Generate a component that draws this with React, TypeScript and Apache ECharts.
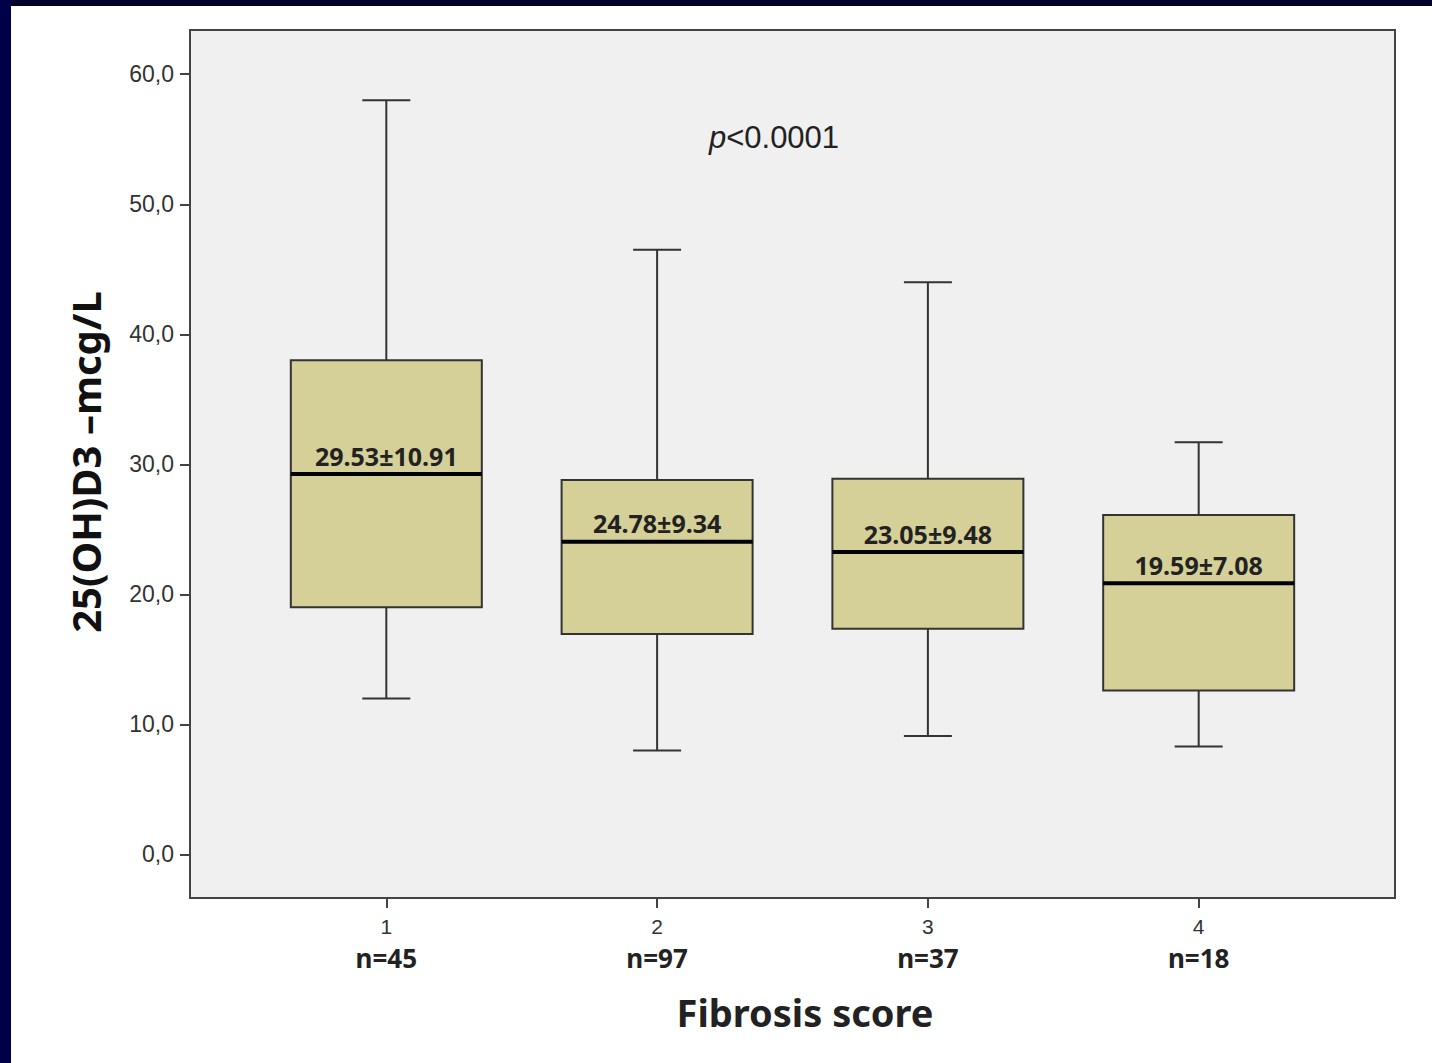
import React, { useEffect, useRef } from "react";
import * as echarts from "echarts";

const categories = [1, 2, 3, 4];
const nCounts = [45, 97, 37, 18];
const whiskerLow = [12.0, 8.0, 9.1, 8.3];
const q1 = [19.0, 16.95, 17.35, 12.6];
const median = [29.25, 24.05, 23.25, 20.85];
const q3 = [38.0, 28.8, 28.9, 26.1];
const whiskerHigh = [58.0, 46.5, 44.0, 31.7];
const meanSd = ["29.53±10.91", "24.78±9.34", "23.05±9.48", "19.59±7.08"];
const yTicks = [0, 10, 20, 30, 40, 50, 60];

export default function App() {
  const ref = useRef<HTMLDivElement>(null);
  useEffect(() => {
    document.body.style.margin = "0";
    const chart = echarts.init(ref.current!, undefined, { renderer: "svg" });
    const data = categories.map((c, i) => [c, whiskerLow[i], q1[i], median[i], q3[i], whiskerHigh[i]]);
    const option: any = {
      animation: false,
      backgroundColor: "#ffffff",
      grid: {
        left: 190,
        top: 30,
        right: 37,
        bottom: 165,
        show: true,
        backgroundColor: "#f0f0f0",
        borderColor: "#444444",
        borderWidth: 2,
      },
      xAxis: {
        type: "value",
        min: 0.275,
        max: 4.725,
        axisLine: { show: false, onZero: false },
        splitLine: { show: false },
        axisTick: { show: true, customValues: categories, length: 10, lineStyle: { color: "#444", width: 2 } },
        axisLabel: {
          customValues: categories,
          margin: 14,
          formatter: (v: number) => `{a|${v}}\n{b|n=${nCounts[categories.indexOf(v)]}}`,
          rich: {
            a: { fontFamily: "Liberation Sans", fontSize: 21, color: "#333", lineHeight: 28 },
            b: { fontFamily: "Noto Sans", fontWeight: "bold", fontSize: 26, color: "#222", lineHeight: 36 },
          },
        },
      },
      yAxis: {
        type: "value",
        min: -3.35,
        max: 63.4,
        axisLine: { show: false, onZero: false },
        splitLine: { show: false },
        axisTick: { show: true, customValues: yTicks, length: 10, lineStyle: { color: "#444", width: 2 } },
        axisLabel: {
          customValues: yTicks,
          margin: 16,
          fontFamily: "Liberation Sans",
          fontSize: 23,
          color: "#333",
          formatter: (v: number) => v.toFixed(1).replace(".", ","),
        },
      },
      graphic: [
        { type: "rect", left: 0, top: 0, shape: { width: 1432, height: 6 }, style: { fill: "#00002a" } },
        { type: "rect", left: 0, top: 0, shape: { width: 11, height: 1063 }, style: { fill: "#00004a" } },
        {
          type: "text",
          x: 85,
          y: 462,
          rotation: Math.PI / 2,
          style: {
            text: "25(OH)D3 –mcg/L",
            fontFamily: "Noto Sans",
            fontWeight: "bold",
            fontSize: 40,
            fill: "#111",
            align: "center",
            verticalAlign: "middle",
          },
        },
        {
          type: "text",
          x: 805,
          y: 1012,
          style: {
            text: "Fibrosis score",
            fontFamily: "Noto Sans",
            fontWeight: "bold",
            fontSize: 38,
            fill: "#222",
            align: "center",
            verticalAlign: "middle",
          },
        },
        {
          type: "text",
          x: 774,
          y: 137,
          style: {
            text: "{i|p}{r|<0.0001}",
            align: "center",
            verticalAlign: "middle",
            rich: {
              i: { fontFamily: "Liberation Sans", fontStyle: "italic", fontSize: 31, fill: "#222" },
              r: { fontFamily: "Liberation Sans", fontSize: 31, fill: "#222" },
            },
          },
        },
      ],
      series: [
        {
          type: "custom",
          data,
          clip: false,
          renderItem: (params: any, api: any) => {
            const x = api.value(0);
            const cx = api.coord([x, 0])[0];
            const yLo = api.coord([x, api.value(1)])[1];
            const yQ1 = api.coord([x, api.value(2)])[1];
            const yMed = api.coord([x, api.value(3)])[1];
            const yQ3 = api.coord([x, api.value(4)])[1];
            const yHi = api.coord([x, api.value(5)])[1];
            const hw = 95.5;
            const cw = 24;
            const st = { stroke: "#333", lineWidth: 2 };
            return {
              type: "group",
              children: [
                { type: "line", shape: { x1: cx, y1: yHi, x2: cx, y2: yQ3 }, style: st },
                { type: "line", shape: { x1: cx, y1: yQ1, x2: cx, y2: yLo }, style: st },
                { type: "line", shape: { x1: cx - cw, y1: yHi, x2: cx + cw, y2: yHi }, style: st },
                { type: "line", shape: { x1: cx - cw, y1: yLo, x2: cx + cw, y2: yLo }, style: st },
                {
                  type: "rect",
                  shape: { x: cx - hw, y: yQ3, width: hw * 2, height: yQ1 - yQ3 },
                  style: { fill: "#d4d098", stroke: "#333", lineWidth: 2 },
                },
                {
                  type: "line",
                  shape: { x1: cx - hw, y1: yMed, x2: cx + hw, y2: yMed },
                  style: { stroke: "#000", lineWidth: 4 },
                },
                {
                  type: "text",
                  x: cx,
                  y: yMed - 6,
                  style: {
                    text: meanSd[params.dataIndex],
                    fontFamily: "Noto Sans",
                    fontWeight: "bold",
                    fontSize: 25,
                    fill: "#222",
                    align: "center",
                    verticalAlign: "bottom",
                  },
                },
              ],
            };
          },
        },
      ],
    };
    chart.setOption(option);
    return () => chart.dispose();
  }, []);
  return <div ref={ref} style={{ position: "absolute", left: 0, top: 0, width: 1432, height: 1063 }} />;
}
